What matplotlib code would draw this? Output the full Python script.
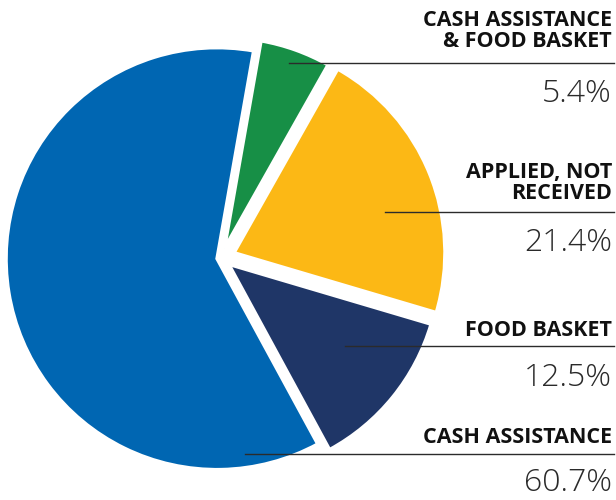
import matplotlib.pyplot as plt

# share of households by type of aid received
labels = ['CASH ASSISTANCE\n& FOOD BASKET', 'APPLIED, NOT\nRECEIVED', 'FOOD BASKET', 'CASH ASSISTANCE']
shares = [5.4, 21.4, 12.5, 60.7]
colors = ['#178f46', '#fcb815', '#1f3667', '#0066b2']

W, H = 616, 500
fig = plt.figure(figsize=(W / 100, H / 100), dpi=100)
ax = fig.add_axes([0, 0, 1, 1])

# pie drawn in pixel units
ax.pie(shares, colors=colors, startangle=80, counterclock=False,
       center=(221, H - 258), radius=211, explode=[10, 14, 10, 4],
       wedgeprops=dict(edgecolor='white', linewidth=2.5))

# pie() resets the limits, so fix them afterwards
ax.set_xlim(0, W)
ax.set_ylim(0, H)
ax.set_aspect('equal')
ax.axis('off')

# callout layout: leader line start x, line y, last caption baseline, value baseline
line_x0 = [289, 385, 345, 245]
line_y = [63, 212, 346, 454]
cap_base = [47, 199, 336, 443]
val_base = [102, 251, 386, 491]
x_right = 612

for i, lab in enumerate(labels):
    ax.plot([line_x0[i], 614], [H - line_y[i]] * 2, color='#2b2b2b', lw=1)
    rows = lab.split('\n')
    for j, row in enumerate(rows):
        yb = cap_base[i] - 21 * (len(rows) - 1 - j)
        ax.text(x_right, H - yb, row, ha='right', va='baseline',
                fontsize=15.5, fontweight='bold', family='Open Sans', color='#111111')
    ax.text(x_right, H - val_base[i], f'{shares[i]}%', ha='right', va='baseline',
            fontsize=23, fontweight='light', family='Open Sans', color='#2a2a2a')

fig.savefig('out.png', dpi=100)
